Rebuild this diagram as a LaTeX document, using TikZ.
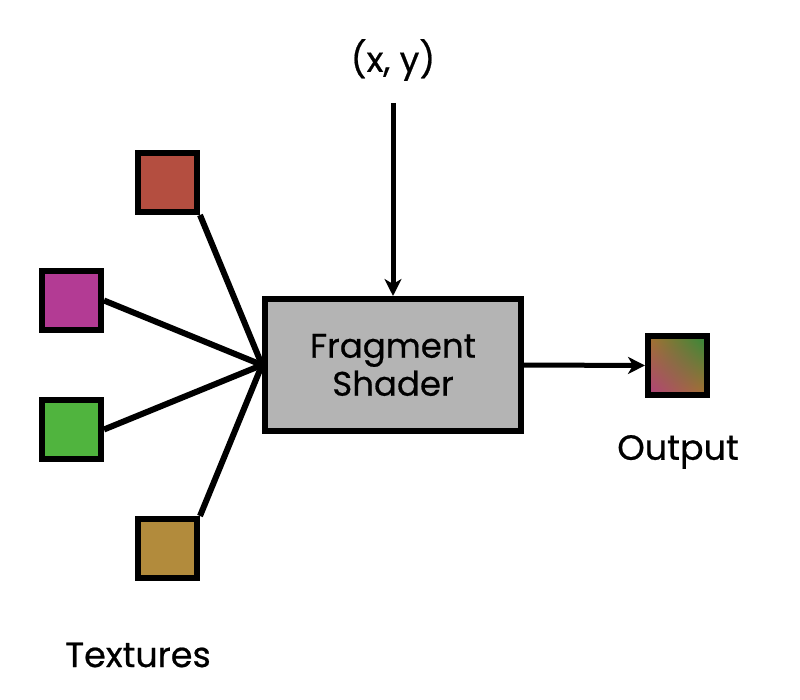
\documentclass[tikz,border=0pt]{standalone}
\usepackage{fontspec}
\setmainfont{Poppins}[FakeBold=0.6]
\usetikzlibrary{arrows.meta,shadings}
\definecolor{texred}{HTML}{B44E40}
\definecolor{texmag}{HTML}{B33B94}
\definecolor{texgreen}{HTML}{50B43E}
\definecolor{texgold}{HTML}{B28B3C}
\definecolor{boxgray}{HTML}{B4B4B4}
\definecolor{outmag}{HTML}{B0407E}
\definecolor{outgreen}{HTML}{2E8A3A}
\definecolor{outbrown}{HTML}{A6722E}
\tikzset{
  texsq/.style={draw=black, line width=6pt, minimum size=59pt, inner sep=0pt},
  conn/.style={line width=6pt},
  arr/.style={line width=5pt, -{Stealth[length=17pt,width=17pt,inset=5pt]}},
  lbl/.style={font=\fontsize{35}{40}\selectfont, inner sep=0pt}
}
\begin{document}
\begin{tikzpicture}[x=1pt,y=-1pt]
\useasboundingbox[fill=white] (0,0) rectangle (800,700);
\node[texsq, fill=texred]   (t1) at (167.5,182.5) {};
\node[texsq, fill=texmag]   (t2) at (71.5,300.5) {};
\node[texsq, fill=texgreen] (t3) at (71.5,429.5) {};
\node[texsq, fill=texgold]  (t4) at (167.5,548.5) {};
\node[draw=black, line width=6pt, fill=boxgray, minimum width=256pt, minimum height=132pt, inner sep=0pt, align=center, lbl, font=\fontsize{34}{38}\selectfont] (fs) at (393,365) {Fragment\\Shader};
\shade[lower left=outmag, upper right=outgreen, upper left=outbrown, lower right=outbrown] (648,336) rectangle (707,395);
\node[draw=black, line width=6pt, minimum size=59pt, inner sep=0pt] (out) at (677.5,365.5) {};
\node[lbl] (xy) at (393,60) {(x, y)};
\node[lbl] (outl) at (678,452) {Output};
\node[lbl] (texl) at (138,655) {Textures};
\coordinate (xytail) at (393,103);
\draw[conn] (t1.south east) -- (fs.west);
\draw[conn] (t2.east) -- (fs.west);
\draw[conn] (t3.east) -- (fs.west);
\draw[conn] (t4.north east) -- (fs.west);
\draw[arr] (xytail) -- (fs.north);
\draw[arr] (fs.east) -- (out.west);
\end{tikzpicture}
\end{document}
